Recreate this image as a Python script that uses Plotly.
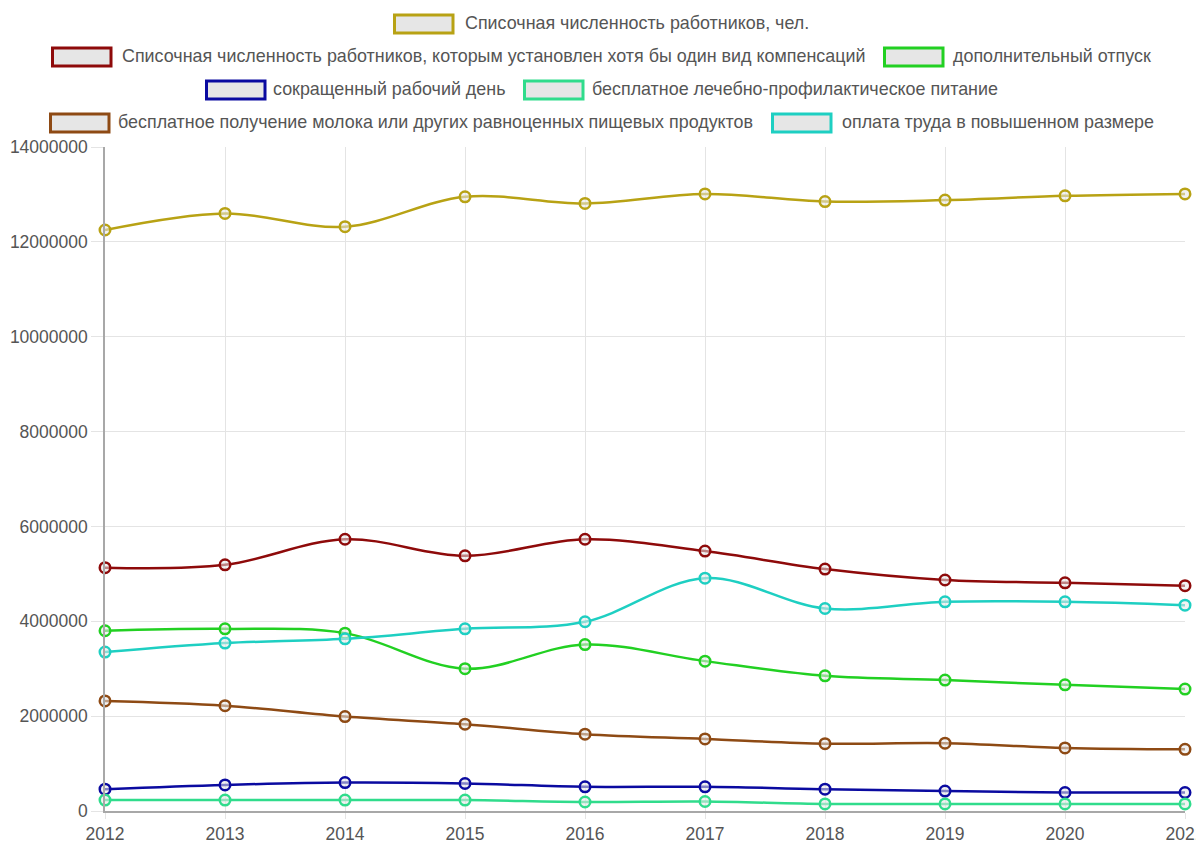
import plotly.graph_objects as go

years = [2012, 2013, 2014, 2015, 2016, 2017, 2018, 2019, 2020, 2021]

names = [
    "Списочная численность работников, чел.",
    "Списочная численность работников, которым установлен хотя бы один вид компенсаций",
    "дополнительный отпуск",
    "сокращенный рабочий день",
    "бесплатное лечебно-профилактическое питание",
    "бесплатное получение молока или других равноценных пищевых продуктов",
    "оплата труда в повышенном размере",
]

total = [12250000, 12600000, 12320000, 12950000, 12810000, 13010000, 12850000, 12880000, 12970000, 13010000]
any_comp = [5130000, 5190000, 5730000, 5380000, 5730000, 5480000, 5100000, 4870000, 4810000, 4750000]
extra_leave = [3800000, 3840000, 3750000, 3000000, 3510000, 3160000, 2850000, 2760000, 2660000, 2570000]
short_day = [460000, 550000, 600000, 580000, 510000, 510000, 460000, 420000, 390000, 390000]
med_food = [230000, 230000, 230000, 230000, 190000, 200000, 150000, 150000, 150000, 150000]
milk = [2320000, 2220000, 1990000, 1830000, 1620000, 1520000, 1420000, 1430000, 1330000, 1300000]
higher_pay = [3350000, 3540000, 3630000, 3840000, 3990000, 4910000, 4270000, 4410000, 4410000, 4340000]

series = [total, any_comp, extra_leave, short_day, med_food, milk, higher_pay]
colors = ["#b8a214", "#8e0a0a", "#22d022", "#0a0aa0", "#30dc8c", "#8e4a14", "#1ecfc2"]

# page body has an 8px margin: the figure starts at (8, 8) of the window
OX, OY = 8, 8
W, H = 1204 - OX, 843 - OY
L, T = 105 - OX, 147 - OY
R = W - (1185 - OX)
B = H - (811 - OY)
PW, PH = W - L - R, H - T - B

fig = go.Figure()
for name, vals, col in zip(names, series, colors):
    fig.add_trace(go.Scatter(
        x=years, y=vals, name=name, mode="lines+markers",
        line=dict(color=col, width=2.5, shape="spline", smoothing=1.0),
        marker=dict(size=10.5, color="rgba(232,232,232,0.55)", line=dict(color=col, width=2.5)),
        cliponaxis=False,
    ))

def px2paper_x(px):
    return (px - OX - L) / PW

def px2paper_y(py):
    return (H - B - (py - OY)) / PH

# custom legend layout (window pixels): (row center y, box left x, text x)
legend_items = [
    (24, 393, 465),
    (57, 51, 122),
    (57, 883, 953),
    (90, 205, 273),
    (90, 523, 592),
    (123, 49, 118),
    (123, 771, 842),
]

shapes = []
annotations = []
for (cy, bx, tx), name, col in zip(legend_items, names, colors):
    shapes.append(dict(
        type="rect", xref="paper", yref="paper",
        x0=px2paper_x(bx + 1.5), x1=px2paper_x(bx + 60),
        y0=px2paper_y(cy - 9), y1=px2paper_y(cy + 9),
        line=dict(color=col, width=3), fillcolor="#e6e6e6", layer="above",
    ))
    annotations.append(dict(
        xref="paper", yref="paper", x=px2paper_x(tx - 2), y=px2paper_y(cy - 1),
        xanchor="left", yanchor="middle", showarrow=False, text=name,
        font=dict(family="Liberation Sans, Arial, sans-serif", size=17.9, color="#555555"),
    ))

fig.update_layout(
    width=W, height=H,
    margin=dict(l=L, r=R, t=T, b=B, pad=0, autoexpand=False),
    paper_bgcolor="white", plot_bgcolor="white",
    showlegend=False,
    shapes=shapes, annotations=annotations,
    font=dict(family="Liberation Sans, Arial, sans-serif", size=17.5, color="#555555"),
)
fig.update_xaxes(
    range=[2012, 2021], tickvals=years, ticktext=[str(y) for y in years],
    showgrid=True, gridcolor="#e4e4e4", gridwidth=1,
    showline=True, linecolor="#a8a8a8", linewidth=1.5,
    ticks="outside", ticklen=6, tickcolor="#e4e4e4",
    tickfont=dict(size=17.5, color="#555555"), zeroline=False, automargin=False,
    ticklabeloverflow="allow",
)
fig.update_yaxes(
    range=[0, 14000000], tickvals=[0, 2000000, 4000000, 6000000, 8000000, 10000000, 12000000, 14000000],
    ticktext=["0", "2000000", "4000000", "6000000", "8000000", "10000000", "12000000", "14000000"],
    showgrid=True, gridcolor="#e4e4e4", gridwidth=1,
    showline=True, linecolor="#a8a8a8", linewidth=1.5,
    ticks="outside", ticklen=12, tickcolor="#e4e4e4",
    tickfont=dict(size=17.5, color="#555555"), zeroline=False, automargin=False,
    ticklabeloverflow="allow",
)

fig.write_html("out.html")
